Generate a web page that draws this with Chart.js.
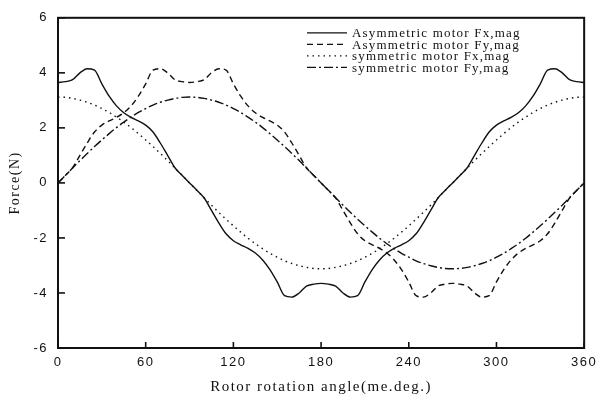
<!DOCTYPE html>
<html>
<head>
<meta charset="utf-8">
<script src="https://cdn.jsdelivr.net/npm/chart.js@4.4.1/dist/chart.umd.min.js"></script>
<style>
  html, body { margin: 0; padding: 0; background: #fff; }
</style>
</head>
<body>
<canvas id="myChart" width="602" height="399"></canvas>
<script>
// rotor angle (deg)
const angles = [0,5,10,15,20,25,30,35,40,45,50,55,60,65,70,75,80,85,90,
  95,100,105,110,115,120,125,130,135,140,145,150,155,160,165,170,175,180,
  185,190,195,200,205,210,215,220,225,230,235,240,245,250,255,260,265,270,
  275,280,285,290,295,300,305,310,315,320,325,330,335,340,345,350,355,360];

const asymFx = [3.65,3.68,3.75,4.0,4.15,4.1,3.6,3.15,2.8,2.55,2.38,2.25,2.1,1.85,1.45,1.0,0.55,0.27,0,
  -0.27,-0.55,-1.0,-1.45,-1.85,-2.1,-2.25,-2.38,-2.55,-2.8,-3.15,-3.6,-4.1,-4.15,-4.0,-3.75,-3.68,-3.65,
  -3.68,-3.75,-4.0,-4.15,-4.1,-3.6,-3.15,-2.8,-2.55,-2.38,-2.25,-2.1,-1.85,-1.45,-1.0,-0.55,-0.27,0,
  0.27,0.55,1.0,1.45,1.85,2.1,2.25,2.38,2.55,2.8,3.15,3.6,4.1,4.15,4.0,3.75,3.68,3.65];

const asymFy = [0,0.27,0.55,1.0,1.45,1.85,2.1,2.25,2.38,2.55,2.8,3.15,3.6,4.1,4.15,4.0,3.75,3.68,3.65,
  3.68,3.75,4.0,4.15,4.1,3.6,3.15,2.8,2.55,2.38,2.25,2.1,1.85,1.45,1.0,0.55,0.27,0,
  -0.27,-0.55,-1.0,-1.45,-1.85,-2.1,-2.25,-2.38,-2.55,-2.8,-3.15,-3.6,-4.1,-4.15,-4.0,-3.75,-3.68,-3.65,
  -3.68,-3.75,-4.0,-4.15,-4.1,-3.6,-3.15,-2.8,-2.55,-2.38,-2.25,-2.1,-1.85,-1.45,-1.0,-0.55,-0.27,0];

const symFx = [3.12,3.11,3.07,3.01,2.93,2.83,2.7,2.56,2.39,2.21,2.01,1.79,1.56,1.32,1.07,0.81,0.54,0.27,0,
  -0.27,-0.54,-0.81,-1.07,-1.32,-1.56,-1.79,-2.01,-2.21,-2.39,-2.56,-2.7,-2.83,-2.93,-3.01,-3.07,-3.11,-3.12,
  -3.11,-3.07,-3.01,-2.93,-2.83,-2.7,-2.56,-2.39,-2.21,-2.01,-1.79,-1.56,-1.32,-1.07,-0.81,-0.54,-0.27,0,
  0.27,0.54,0.81,1.07,1.32,1.56,1.79,2.01,2.21,2.39,2.56,2.7,2.83,2.93,3.01,3.07,3.11,3.12];

const symFy = [0,0.27,0.54,0.81,1.07,1.32,1.56,1.79,2.01,2.21,2.39,2.56,2.7,2.83,2.93,3.01,3.07,3.11,3.12,
  3.11,3.07,3.01,2.93,2.83,2.7,2.56,2.39,2.21,2.01,1.79,1.56,1.32,1.07,0.81,0.54,0.27,0,
  -0.27,-0.54,-0.81,-1.07,-1.32,-1.56,-1.79,-2.01,-2.21,-2.39,-2.56,-2.7,-2.83,-2.93,-3.01,-3.07,-3.11,-3.12,
  -3.11,-3.07,-3.01,-2.93,-2.83,-2.7,-2.56,-2.39,-2.21,-2.01,-1.79,-1.56,-1.32,-1.07,-0.81,-0.54,-0.27,0];

const seriesNames = ["Asymmetric motor Fx,mag", "Asymmetric motor Fy,mag",
  "symmetric motor Fx,mag", "symmetric motor Fy,mag"];

const xTicks = [0, 60, 120, 180, 240, 300, 360];
const yTicks = [-6, -4, -2, 0, 2, 4, 6];

const ink = "#111";

function pts(vals) {
  return angles.map((a, i) => ({ x: a, y: vals[i] }));
}

function line(label, vals, dash) {
  return {
    label: label,
    data: pts(vals),
    borderColor: ink,
    borderWidth: 1.4,
    borderDash: dash,
    pointRadius: 0,
    cubicInterpolationMode: "monotone",
    fill: false
  };
}

// frame, inward ticks and the legend inside the plot
const framePlugin = {
  id: "frame",
  beforeDraw(chart) {
    chart.ctx.letterSpacing = "1.5px";
  },
  afterDraw(chart) {
    const ctx = chart.ctx;
    const a = chart.chartArea;
    const xs = chart.scales.x, ys = chart.scales.y;
    ctx.save();
    ctx.strokeStyle = ink;
    ctx.lineWidth = 2;
    ctx.setLineDash([]);
    ctx.strokeRect(a.left, a.top, a.right - a.left, a.bottom - a.top);
    ctx.lineWidth = 1.6;
    xs.ticks.forEach(t => {
      const px = xs.getPixelForValue(t.value);
      ctx.beginPath();
      ctx.moveTo(px, a.bottom);
      ctx.lineTo(px, a.bottom - 6);
      ctx.stroke();
    });
    ys.ticks.forEach(t => {
      const py = ys.getPixelForValue(t.value);
      ctx.beginPath();
      ctx.moveTo(a.left, py);
      ctx.lineTo(a.left + 7, py);
      ctx.stroke();
    });

    // legend
    ctx.font = "13px 'Liberation Serif', serif";
    ctx.letterSpacing = "1.2px";
    ctx.fillStyle = ink;
    ctx.textAlign = "left";
    ctx.textBaseline = "middle";
    chart.data.datasets.forEach((ds, i) => {
      const y = a.top + 15 + i * 11.5;
      const x0 = a.left + 249;
      ctx.lineWidth = 1.3;
      ctx.setLineDash(ds.borderDash || []);
      ctx.beginPath();
      ctx.moveTo(x0, y);
      ctx.lineTo(x0 + 40, y);
      ctx.stroke();
      ctx.fillText(ds.label, x0 + 45, y + 1);
    });
    ctx.restore();
  }
};

new Chart(document.getElementById("myChart"), {
  type: "line",
  data: {
    datasets: [
      line(seriesNames[0], asymFx, []),
      line(seriesNames[1], asymFy, [6, 4]),
      line(seriesNames[2], symFx, [1.5, 4]),
      line(seriesNames[3], symFy, [9, 3, 2, 3])
    ]
  },
  options: {
    responsive: false,
    animation: false,
    devicePixelRatio: 1,
    layout: { padding: { top: 14, right: 13, left: 0, bottom: 0 } },
    plugins: {
      legend: { display: false },
      tooltip: { enabled: false }
    },
    scales: {
      x: {
        type: "linear",
        min: 0,
        max: 360,
        afterBuildTicks: s => { s.ticks = xTicks.map(v => ({ value: v })); },
        afterFit: s => { s.height = 51; },
        grid: { display: false, drawTicks: false },
        border: { display: false },
        ticks: {
          color: ink,
          padding: 7,
          maxRotation: 0,
          font: { family: "'Liberation Sans', Arial, sans-serif", size: 13 }
        },
        title: {
          display: true,
          text: "Rotor rotation angle(me.deg.)",
          color: ink,
          padding: { top: 0, bottom: 3 },
          font: { family: "'Liberation Serif', serif", size: 15 }
        }
      },
      y: {
        type: "linear",
        min: -6,
        max: 6,
        afterBuildTicks: s => { s.ticks = yTicks.map(v => ({ value: v })); },
        afterFit: s => { s.width = 58; },
        grid: { display: false, drawTicks: false },
        border: { display: false },
        ticks: {
          color: ink,
          padding: 10,
          font: { family: "'Liberation Sans', Arial, sans-serif", size: 13 }
        },
        title: {
          display: true,
          text: "Force(N)",
          color: ink,
          padding: { top: 7, bottom: 0 },
          font: { family: "'Liberation Serif', serif", size: 14 }
        }
      }
    }
  },
  plugins: [framePlugin]
});
</script>
</body>
</html>
